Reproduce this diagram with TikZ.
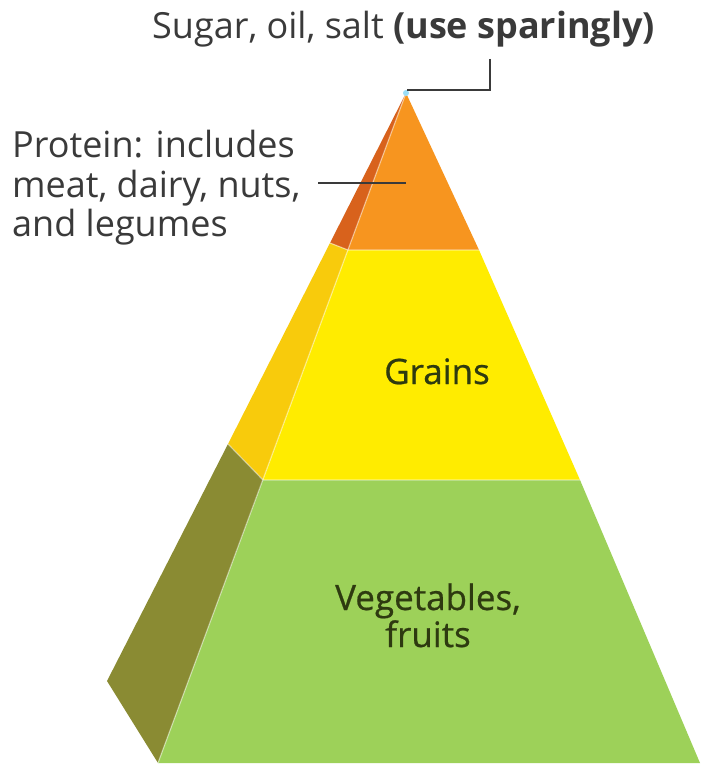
\documentclass[tikz,border=0pt]{standalone}
\usepackage{fontspec}
\setmainfont{Open Sans}
\newfontfamily\heavy[FakeBold=0.6]{Open Sans}
\definecolor{txt}{HTML}{3A3A3A}
\definecolor{orangeF}{HTML}{F7951F}
\definecolor{orangeS}{HTML}{D8621C}
\definecolor{yellowF}{HTML}{FFEC00}
\definecolor{yellowS}{HTML}{F8CB0C}
\definecolor{greenF}{HTML}{9DD159}
\definecolor{greenS}{HTML}{8A8B33}
\definecolor{lbl}{HTML}{2E3A10}
\tikzset{
  lab/.style={text=txt, font=\fontsize{36}{39}\selectfont, inner sep=0pt},
  inlab/.style={font=\heavy\fontsize{35}{37}\selectfont, inner sep=0pt, align=center},
  callout/.style={draw=txt, line width=1.6pt},
  seam/.style={draw=white, opacity=0.45, line width=1.2pt}
}
\begin{document}
\begin{tikzpicture}[x=1pt,y=-1pt]
\useasboundingbox (0,0) rectangle (701,767);
\fill[white] (0,0) rectangle (701,767);
% key points
\coordinate (apex) at (406,93);
\coordinate (fl1) at (348,250);
\coordinate (fr1) at (479,250);
\coordinate (fl2) at (263,480);
\coordinate (fr2) at (580,480);
\coordinate (fl3) at (158,763);
\coordinate (fr3) at (700,763);
\coordinate (bl1) at (330,243);
\coordinate (bl2) at (228,444);
\coordinate (bl3) at (107,681);
% side faces
\fill[orangeS] (apex) -- (bl1) -- (fl1) -- cycle;
\fill[yellowS] (bl1) -- (bl2) -- (fl2) -- (fl1) -- cycle;
\fill[greenS] (bl2) -- (bl3) -- (fl3) -- (fl2) -- cycle;
% front faces
\fill[orangeF] (apex) -- (fl1) -- (fr1) -- cycle;
\fill[yellowF] (fl1) -- (fl2) -- (fr2) -- (fr1) -- cycle;
\fill[greenF] (fl2) -- (fl3) -- (fr3) -- (fr2) -- cycle;
% seams
\draw[seam] (apex) -- (fl3);
\draw[seam] (bl1) -- (fl1) -- (fr1);
\draw[seam] (bl2) -- (fl2) -- (fr2);
\fill[cyan!40] (apex) circle (3);
% labels
\node[lab, anchor=base west] (sugar) at (152,39) {Sugar, oil, salt \textbf{(use sparingly)}};
\node[lab, anchor=base west, align=left] (protein) at (12,236)
  {Protein: includes\\meat, dairy, nuts,\\and legumes};
\node[inlab, text=lbl, anchor=base] (grains) at (437,384) {Grains};
\node[inlab, text=lbl, anchor=base] (veg) at (428,647) {Vegetables,\\fruits};
% callouts
\coordinate (sugarend) at (490,59);
\coordinate (apexpt) at (407,90);
\coordinate (protend) at (406,183);
\draw[callout] (sugarend) -- (490,90) -- (apexpt);
\draw[callout] (318,183) -- (protend);
\end{tikzpicture}
\end{document}
